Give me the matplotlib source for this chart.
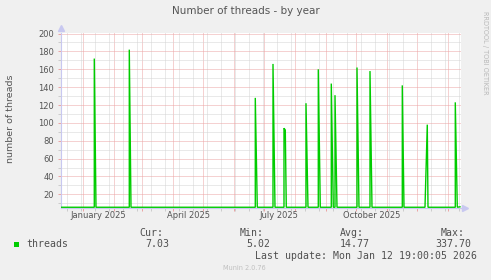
import matplotlib
matplotlib.use("Agg")
import matplotlib.pyplot as plt
import matplotlib.dates as mdates
import matplotlib.transforms as mtrans
from matplotlib.ticker import MultipleLocator, NullFormatter, FixedLocator, FormatStrFormatter
from matplotlib.patches import Rectangle
import pandas as pd

# ---------------- data ----------------
times = [
    "2024-12-09 07:00", "2025-01-12 02:00", "2025-01-12 02:00", "2025-01-13 19:00",
    "2025-02-16 02:00", "2025-02-16 02:00", "2025-02-17 19:00",
    "2025-06-22 02:00", "2025-06-22 02:00", "2025-06-24 02:00",
    "2025-07-09 19:00", "2025-07-09 19:00", "2025-07-11 19:00",
    "2025-07-20 19:00", "2025-07-20 19:00", "2025-07-22 02:00", "2025-07-23 02:00",
    "2025-08-11 19:00", "2025-08-11 19:00", "2025-08-13 19:00",
    "2025-08-24 02:00", "2025-08-24 02:00", "2025-08-26 02:00",
    "2025-09-06 02:00", "2025-09-06 02:00", "2025-09-08 02:00",
    "2025-09-09 19:00", "2025-09-09 19:00", "2025-09-11 19:00",
    "2025-10-01 19:00", "2025-10-01 19:00", "2025-10-03 19:00",
    "2025-10-14 19:00", "2025-10-14 19:00", "2025-10-16 19:00",
    "2025-11-16 02:00", "2025-11-16 02:00", "2025-11-17 19:00",
    "2025-12-08 19:00", "2025-12-11 02:00", "2025-12-11 19:00",
    "2026-01-08 02:00", "2026-01-08 02:00", "2026-01-10 02:00",
    "2026-01-12 19:00",
]
threads = [
    5.5, 5.5, 172, 5.5,
    5.5, 182, 5.5,
    5.5, 128, 5.5,
    5.5, 166, 5.5,
    5.5, 94, 92, 5.5,
    5.5, 122, 5.5,
    5.5, 160, 5.5,
    5.5, 144, 5.5,
    5.5, 131, 5.5,
    5.5, 162, 5.5,
    5.5, 158, 5.5,
    5.5, 142, 5.5,
    5.5, 98, 5.5,
    5.5, 123, 5.5,
    6.0,
]

x_label_dates = ["2025-01-16", "2025-04-16", "2025-07-16", "2025-10-16"]
x_labels = ["January 2025", "April 2025", "July 2025", "October 2025"]

title = "Number of threads - by year"
y_label = "number of threads"
series_name = "threads"
stat_names = ["Cur:", "Min:", "Avg:", "Max:"]
stat_values = ["7.03", "5.02", "14.77", "337.70"]
last_update = "Last update: Mon Jan 12 19:00:05 2026"
credit = "Munin 2.0.76"
side_text = "RRDTOOL / TOBI OETIKER"

x_start = pd.Timestamp("2024-12-09 07:12")
x_end = x_start + pd.Timedelta(days=400)

# ---------------- figure ----------------
W, H = 491, 280
fig = plt.figure(figsize=(W / 100, H / 100), dpi=100, facecolor="#f0f0f0")

def fx(px):
    return px / W

def fy(py):
    return 1 - py / H

ax = fig.add_axes([60.5 / W, (H - 207.7) / H, 400 / W, 174.4 / H])
ax.set_facecolor("white")

tx = pd.to_datetime(times)
ax.plot(tx, threads, color="#00cc00", lw=1.0, zorder=3, solid_joinstyle="miter")

ax.set_xlim(x_start, x_end)
ax.set_ylim(5, 200.3)

# grids
ax.xaxis.set_major_locator(mdates.MonthLocator())
minor_dates = pd.date_range("2024-12-16", "2026-01-20", freq="14D")
ax.xaxis.set_minor_locator(FixedLocator(mdates.date2num(minor_dates)))
ax.xaxis.set_major_formatter(NullFormatter())
ax.xaxis.set_minor_formatter(NullFormatter())
ax.yaxis.set_major_locator(MultipleLocator(20))
ax.yaxis.set_minor_locator(MultipleLocator(10))
ax.yaxis.set_major_formatter(FormatStrFormatter("%d"))

ax.grid(True, which="minor", color="#d4d4d4", linestyle=(0, (1, 1)), linewidth=0.72, zorder=1)
ax.grid(True, which="major", color="#eca4a4", linestyle=(0, (1, 1)), linewidth=0.72, zorder=1.2)

ax.tick_params(axis="x", which="major", length=2, width=0.72, color="#eca4a4")
ax.tick_params(axis="x", which="minor", length=2, width=0.72, color="#cccccc")
ax.tick_params(axis="y", which="major", length=2, width=0.72, color="#eca4a4",
               labelsize=6, labelcolor="#555555", pad=2.5)
ax.tick_params(axis="y", which="minor", length=2, width=0.72, color="#cccccc")

for s in ("top", "right"):
    ax.spines[s].set_visible(False)
for s in ("left", "bottom"):
    ax.spines[s].set_color("#c8c8f0")
    ax.spines[s].set_linewidth(0.8)

# axis arrows
ax.plot([0], [1.03], marker="^", markersize=4, color="#c8c8f0", transform=ax.transAxes,
        clip_on=False, zorder=5)
ax.plot([1.012], [0], marker=">", markersize=4, color="#c8c8f0", transform=ax.transAxes,
        clip_on=False, zorder=5)

# x labels (centred mid-month)
trans = mtrans.blended_transform_factory(ax.transData, ax.transAxes)
for d, lab in zip(pd.to_datetime(x_label_dates), x_labels):
    ax.text(d, -0.043, lab, transform=trans, ha="center", va="center",
            fontsize=6, color="#555555")

# titles
fig.text(fx(245.5), fy(11.3), title, ha="center", va="center", fontsize=7.5, color="#555555")
fig.text(fx(10.5), fy(119), y_label, rotation=90, ha="center", va="center",
         fontsize=6.8, color="#555555")
fig.text(fx(485), fy(53), side_text, rotation=270, ha="center", va="center",
         fontsize=4.7, color="#b8b8b8")

# legend
fig.patches.append(Rectangle((fx(14), fy(247)), 5.3 / W, 4.7 / H, transform=fig.transFigure,
                             facecolor="#00cc00", edgecolor="none"))
mono = dict(family="DejaVu Sans Mono", fontsize=7.1, color="#505050", va="center", ha="left")
fig.text(fx(26.7), fy(244.3), series_name, **mono)
for xn, name in zip([139.3, 240, 340, 441], stat_names):
    fig.text(fx(xn), fy(233.3), name, **mono)
for xv, val in zip([145.7, 246, 340, 435], stat_values):
    fig.text(fx(xv), fy(244.3), val, **mono)
fig.text(fx(255), fy(256.3), last_update, **mono)
fig.text(fx(244.8), fy(268.3), credit, ha="center", va="center", fontsize=4.7, color="#c0c0c0")

fig.savefig("out.png", dpi=100, facecolor=fig.get_facecolor())
